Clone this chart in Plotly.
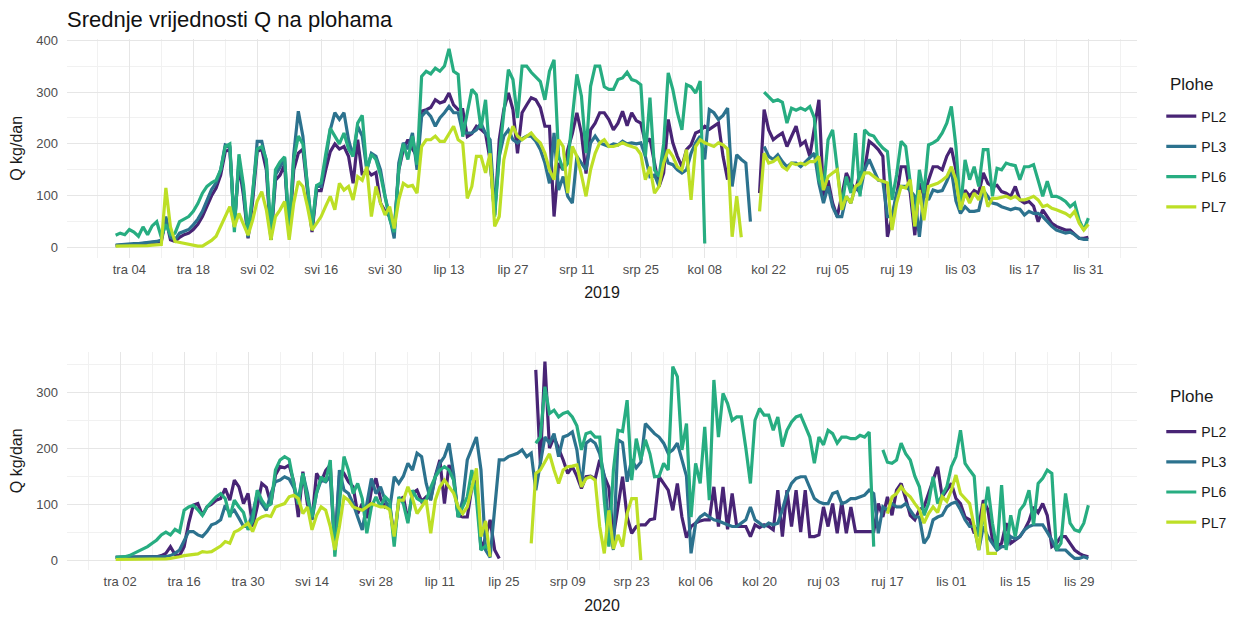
import pandas as pd
import plotly.graph_objects as go

N = float("nan")  # day without a value

series_names = ["PL2", "PL3", "PL6", "PL7"]
series_colors = ["#482475", "#2C728E", "#27AD81", "#BDDF26"]

# ---------------- 2019 (daily, 1 Apr - 31 Oct) ----------------
pl2_2019 = (
    [4,5,5,6,6,7,7,8,9,10, 12,55,15,12,20,25,28,35,45,60, 80,100,115,140,185,190,45,160,100,18]
    + [90,185,190,150,15,130,140,160,25,150, 182,190,110,30,110,110,150,185,200,190, 195,176,124,208,140,150,140,145,86,70, 60]
    + [34,150,189,208,190,176,263,266,270,285, 279,282,298,275,266,266,214,220,234,228, 220,169,63,208,266,298,266,182,260,275]
    + [289,285,270,234,234,60,163,150,189,220, 260,220,143,227,240,260,260,247,227,240, 263,235,260,245,240,202,210,163,118,144, 247]
    + [202,176,156,189,198,221,225,234,228,234, 240,176,131,N,N,N,N,N,N,105, 266,227,208,215,221,195,215,234,198,205, 176]
    + [227,285,99,130,86,60,100,144,125,110, 144,150,205,198,189,176,21,60,99,156, 156,105,24,124,99,130,156,156,150,176]
    + [192,150,73,111,99,110,105,144,124,118, 120,108,105,99,118,92,86,89,80,50, 73,60,47,41,37,34,34,25,18,18, 20]
)
pl3_2019 = (
    [5,6,7,7,8,8,9,10,11,12, 15,60,20,15,28,32,35,44,55,70, 90,112,125,150,198,195,40,170,110,20]
    + [100,205,205,165,15,140,155,173,28,180, 263,215,118,34,118,118,170,227,260,247, 260,208,176,234,215,150,182,176,150,99, 60]
    + [18,163,202,190,221,150,253,263,253,234, 250,260,272,260,260,221,221,221,227,240, 220,208,73,176,215,227,208,202,210,215]
    + [215,205,189,163,124,221,111,137,99,86, 176,163,150,202,215,202,198,195,200,198, 205,200,202,200,202,176,137,140,118,189, 163]
    + [160,150,144,150,182,202,215,170,266,260, 247,255,269,118,179,170,163,50,N,N, 195,176,170,179,166,156,163,163,156,165, 173]
    + [182,124,86,118,79,60,60,99,86,118, 105,150,170,150,130,128,60,60,105,118, 118,110,99,21,105,92,111,108,110,128]
    + [150,90,66,79,70,70,72,111,99,86, 84,79,76,73,76,74,63,70,66,66, 60,50,41,34,31,28,30,25,18,16, 16]
)
pl6_2019 = (
    [24,28,25,35,30,22,40,25,42,50, 20,45,25,28,50,55,60,70,85,105, 118,125,130,150,195,200,30,180,120,25]
    + [110,190,195,170,25,150,165,175,30,170, 215,200,120,40,120,125,180,230,215,200, 221,190,176,240,255,150,180,170,140,100, 55]
    + [30,150,200,170,215,160,330,340,335,346, 340,350,383,340,334,214,260,305,295,230, 285,163,60,176,253,343,324,250,350,350]
    + [338,330,320,285,340,362,176,150,163,250, 334,292,182,311,350,350,310,305,305,324, 327,338,324,321,314,176,289,150,137,200, 337]
    + [305,260,227,314,310,298,321,8,N,N, N,N,N,N,N,N,N,N,N,N, 300,290,282,285,280,240,269,265,269,265, 272]
    + [250,131,111,208,227,150,79,137,105,221, 99,227,218,215,202,192,185,92,140,205, 195,125,41,150,105,198,202,208,221,240]
    + [272,195,73,169,131,156,118,189,189,99, 153,150,163,160,158,131,156,156,160,130, 99,128,99,99,95,89,79,86,53,34, 57]
)
pl7_2019 = (
    [3,3,4,4,4,3,4,4,5,5, 6,115,40,12,10,8,6,4,3,3, 8,14,22,40,60,79,40,66,45,24]
    + [53,90,108,73,15,60,73,89,15,86, 128,118,79,34,47,60,80,99,73,124, 111,118,92,137,130,156,60,118,86,63, 79]
    + [37,92,124,118,120,105,195,208,208,215, 205,205,221,234,208,202,95,118,176,176, 144,182,41,60,169,208,234,215,208,215]
    + [221,210,202,182,150,131,208,195,105,195, 176,140,99,150,182,202,208,195,195,198, 202,198,195,192,180,131,156,105,118,163, 189]
    + [176,156,150,189,92,195,208,202,198,195, 202,198,190,21,99,20,N,N,N,70, 182,163,166,173,156,150,163,160,163,160, 166]
    + [166,176,111,137,144,150,73,99,86,118, 124,144,144,137,131,128,125,34,86,118, 115,131,41,111,53,118,121,124,130,137]
    + [156,130,73,105,86,105,92,118,79,95, 95,97,99,95,99,92,92,95,99,92, 79,82,76,73,70,66,60,70,47,34, 45]
)

# ---------------- 2020 (daily, 1 Apr - 31 Oct) ----------------
pl2_2020 = (
    [5,5,5,5,5,5,5,5,5,6, 8,12,24,10,8,24,66,98,101,80, 95,100,107,110,128,107,143,131,101,119]
    + [60,95,137,130,100,152,167,165,170,140, 77,158,100,72,155,140,160,170,20,150, 155,140,131,83,101,75,125,146,110,95, 100]
    + [40,105,113,70,120,125,105,113,110,150, 179,101,170,145,80,77,77,130,150,18, 40,72,18,3,N,N,N,N,N,N]
    + [N,340,173,355,200,220,200,179,155,167, 150,128,149,150,145,179,150,130,42,95, 149,77,48,60,63,63,72,74,149,137, 125]
    + [89,137,77,40,60,66,70,72,72,131, 60,131,55,119,60,60,60,42,63,58, 63,60,54,125,42,125,60,125,50,125, 42]
    + [42,45,95,60,101,48,104,48,95,51, 51,51,51,51,101,77,113,80,125,137, 110,80,72,90,95,119,140,167,113,125]
    + [137,110,101,77,72,48,60,107,90,36, 24,30,66,30,36,42,54,70,95,85, 101,80,24,30,42,42,30,18,12,8, 6]
)
pl3_2020 = (
    [5,5,5,5,5,5,5,5,5,5, 6,6,8,12,18,36,51,51,45,42, 51,63,66,72,98,83,89,75,60,60]
    + [83,119,101,89,119,140,143,149,145,130, 107,155,120,72,120,143,140,150,20,161, 125,119,101,77,54,100,146,119,131,107, 90]
    + [149,137,150,173,161,191,185,137,107,149, 173,185,209,155,77,107,179,200,220,161, 18,5,100,179,179,185,188,191,197,185]
    + [191,125,173,220,209,226,185,220,223,229, 197,131,209,215,209,190,150,60,18,215, 210,140,180,165,175,244,235,226,220,209, 191]
    + [197,209,180,150,12,66,77,83,77,72, 70,66,63,60,60,66,72,95,72,66, 60,66,63,66,90,119,137,146,149,149, 131]
    + [110,104,101,101,119,122,101,104,110,110, 113,116,125,119,48,95,89,101,95,95, 101,90,77,77,30,42,72,77,80,95]
    + [101,104,90,72,60,60,18,60,42,30, 18,24,24,42,38,42,54,60,63,63, 63,50,36,18,18,18,10,3,3,6, 3]
)
pl6_2020 = (
    [5,5,6,8,12,16,20,24,30,36, 45,50,45,55,50,89,95,98,90,80, 95,104,113,119,110,77,107,95,85,54]
    + [70,125,107,95,100,161,179,185,180,137, 100,155,110,77,120,149,140,179,6,100, 185,160,119,137,110,48,95,113,95,113, 105]
    + [24,113,101,66,125,110,105,107,130,149, 161,167,161,143,77,95,113,161,110,18, 25,18,N,N,N,N,N,N,N,N]
    + [N,209,220,310,262,268,256,262,265,256, 240,197,226,229,220,220,107,24,161,232, 230,286,143,217,179,215,190,149,150,173, 161]
    + [346,328,197,244,77,173,137,238,107,322, 220,298,280,250,256,256,200,137,250,271, 259,259,232,256,203,232,247,256,259,240, 220]
    + [173,220,206,232,226,209,220,220,217,217, 223,220,229,24,N,197,175,173,179,209, 190,179,150,131,80,101,149,101,115,131]
    + [167,185,232,173,161,150,42,72,131,66, 18,134,18,80,42,89,100,125,63,137, 146,161,155,18,30,119,66,54,51,66, 98]
)
pl7_2020 = (
    [1,1,1,1,1,1,1,1,1,1, 2,2,3,4,6,8,9,10,11,15, 14,15,20,25,33,30,50,54,60,66]
    + [51,72,77,80,78,95,98,101,113,116, 110,83,95,54,80,95,89,60,18,60, 113,107,95,92,89,95,101,98,95,95, 90]
    + [42,107,107,131,110,83,95,107,48,107, 131,143,131,120,95,83,95,130,164,42, 70,6,N,N,N,N,N,N,N,N]
    + [30,155,161,175,190,161,137,161,167,168, 170,131,146,149,143,60,12,89,20,45, 24,83,110,110,0,N,N,N,N,N, N]
    + [N]*31
    + [N]*16 + [83,113,119,131,120,113,101,90,66,83, 95,85,113,105]
    + [125,152,119,110,101,60,18,101,12,12, 12] + [N]*20
)

ticks_2019 = ["tra 04", "tra 18", "svi 02", "svi 16", "svi 30", "lip 13", "lip 27", "srp 11",
              "srp 25", "kol 08", "kol 22", "ruj 05", "ruj 19", "lis 03", "lis 17", "lis 31"]
ticks_2020 = ["tra 02", "tra 16", "tra 30", "svi 14", "svi 28", "lip 11", "lip 25", "srp 09",
              "srp 23", "kol 06", "kol 20", "ruj 03", "ruj 17", "lis 01", "lis 15", "lis 29"]
month_map = {"tra": 4, "svi": 5, "lip": 6, "srp": 7, "kol": 8, "ruj": 9, "lis": 10}
legend_title = "Plohe"

years = [2019, 2020]
data = {
    2019: [pl2_2019, pl3_2019, pl6_2019, pl7_2019],
    2020: [pl2_2020, pl3_2020, pl6_2020, pl7_2020],
}
tick_labels = {2019: ticks_2019, 2020: ticks_2020}

fig = go.Figure()

FONT = "Liberation Sans, Arial, sans-serif"
GRID = "#E6E6E6"
GRID_MINOR = "#F1F1F1"
TICK_FONT = dict(family=FONT, size=13, color="#4D4D4D")
TITLE_FONT = dict(family=FONT, size=16, color="#1A1A1A")

domains = {2019: [0.5883, 1.0], 2020: [0.0, 0.4113]}
yranges = {2019: [-19.15, 402.15], 2020: [-17.75, 372.75]}
yticks = {2019: [0, 100, 200, 300, 400], 2020: [0, 100, 200, 300]}
yminor = {2019: [50, 150, 250, 350], 2020: [50, 150, 250, 350]}

for k, yr in enumerate(years):
    dates = pd.date_range(f"{yr}-04-01", f"{yr}-10-31", freq="D")
    ax = "" if k == 0 else str(k + 1)
    legend_name = "legend" if k == 0 else "legend2"
    for name, col, vals in zip(series_names, series_colors, data[yr]):
        fig.add_trace(go.Scatter(
            x=dates[:len(vals)], y=vals, mode="lines", name=name,
            line=dict(color=col, width=3.2),
            xaxis="x" + ax, yaxis="y" + ax,
            legend=legend_name, legendgroup=f"{yr}{name}",
            connectgaps=False,
        ))

    tvals = [pd.Timestamp(yr, month_map[t.split()[0]], int(t.split()[1])) for t in tick_labels[yr]]
    mvals = [tvals[0] - pd.Timedelta(days=7)] + [t + pd.Timedelta(days=7) for t in tvals]
    start = dates[0] - pd.Timedelta(hours=10.65 * 24)
    end = dates[-1] + pd.Timedelta(hours=10.65 * 24)

    fig.update_layout(**{
        "xaxis" + ax: dict(
            domain=[0, 1], anchor="y" + ax, type="date", automargin=False,
            range=[start, end],
            tickmode="array", tickvals=tvals, ticktext=tick_labels[yr],
            tickfont=TICK_FONT, ticks="", showline=False, zeroline=False,
            showgrid=True, gridcolor=GRID, gridwidth=1,
            minor=dict(tickvals=mvals, showgrid=True, gridcolor=GRID_MINOR, gridwidth=1),
            title=dict(text=str(yr), font=TITLE_FONT, standoff=11),
            ticklabelstandoff=2,
        ),
        "yaxis" + ax: dict(
            domain=domains[yr], anchor="x" + ax, automargin=False,
            range=yranges[yr], tickmode="array", tickvals=yticks[yr],
            tickfont=TICK_FONT, ticks="", showline=False, zeroline=False,
            showgrid=True, gridcolor=GRID, gridwidth=1,
            minor=dict(tickvals=yminor[yr], showgrid=True, gridcolor=GRID_MINOR, gridwidth=1),
            title=dict(text="Q kg/dan", font=TITLE_FONT, standoff=10),
            ticklabelstandoff=8,
        ),
    })

legend_common = dict(
    xanchor="left", yanchor="top", x=1.0227,
    font=dict(family=FONT, size=14, color="#1A1A1A"),
    tracegroupgap=9, itemwidth=30, bgcolor="rgba(0,0,0,0)",
)
fig.update_layout(
    legend=dict(y=0.884, **legend_common),
    legend2=dict(y=0.290, **legend_common),
)

# legend titles as text above each legend
for ypos in [0.915, 0.326]:
    fig.add_annotation(
        text=legend_title, xref="paper", yref="paper", x=1.029, y=ypos,
        xanchor="left", yanchor="middle", showarrow=False,
        font=dict(family=FONT, size=17, color="#1A1A1A"),
    )

fig.update_layout(
    width=1240, height=611,
    margin=dict(l=59, r=111, t=31, b=49),
    paper_bgcolor="white", plot_bgcolor="white",
    title=dict(text="Srednje vrijednosti Q na plohama", x=59 / 1240, xanchor="left",
               y=1.0, yanchor="top", pad=dict(t=4),
               font=dict(family=FONT, size=22, color="#111111")),
    showlegend=True,
)

fig.write_html("out.html")
